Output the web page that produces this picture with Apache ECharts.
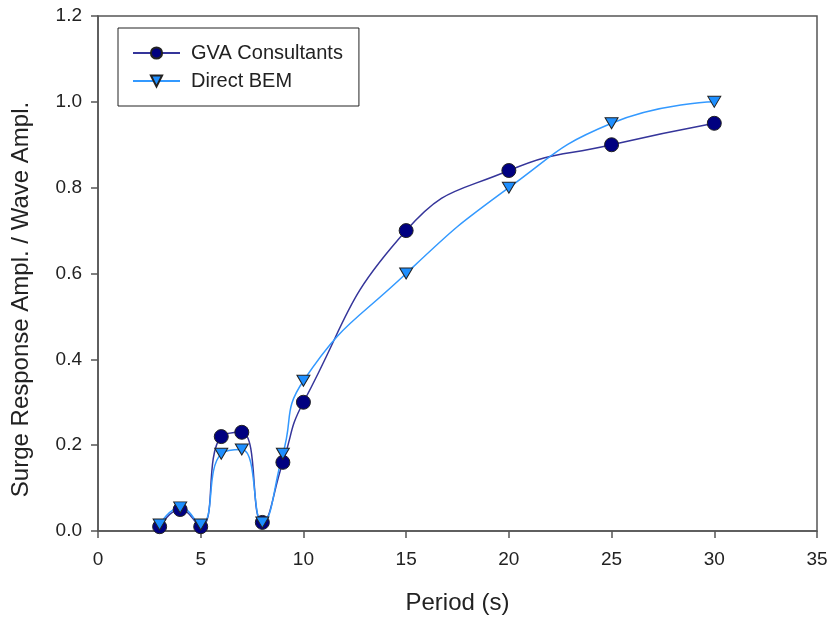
<!DOCTYPE html>
<html><head><meta charset="utf-8">
<script src="https://cdn.jsdelivr.net/npm/echarts@6/dist/echarts.min.js"></script>
<style>html,body{margin:0;padding:0;background:#fff}#c{width:831px;height:620px}</style>
</head><body><div id="c"></div>
<script>
const periods = [3, 4, 5, 6, 7, 8, 9, 10, 15, 20, 25, 30];
const gvaValues = [0.01, 0.05, 0.01, 0.22, 0.23, 0.02, 0.16, 0.30, 0.70, 0.84, 0.90, 0.95];
const bemValues = [0.015, 0.055, 0.015, 0.18, 0.19, 0.02, 0.18, 0.35, 0.60, 0.80, 0.95, 1.00];
const xTicks = [0, 5, 10, 15, 20, 25, 30, 35];
const yTicks = [0.0, 0.2, 0.4, 0.6, 0.8, 1.0, 1.2];

const chart = echarts.init(document.getElementById('c'));
const font = 'Liberation Sans, Arial, sans-serif';
const axisLine = {show: true, lineStyle: {color: '#555', width: 1.5}};
chart.setOption({
  animation: false,
  grid: {left: 98, right: 14, top: 16, bottom: 89, show: true, borderColor: '#555', borderWidth: 1.5},
  legend: {
    left: 118, top: 28, orient: 'vertical', padding: [15, 16, 15, 14],
    borderColor: '#222', borderWidth: 1, itemGap: 8, itemWidth: 47, itemHeight: 14,
    textStyle: {fontFamily: font, fontSize: 20, color: '#222', padding: [0, 0, 0, 6]},
    data: ['GVA Consultants', 'Direct BEM']
  },
  xAxis: {
    type: 'value', min: xTicks[0], max: xTicks[xTicks.length - 1], interval: 5,
    name: 'Period (s)', nameLocation: 'middle', nameGap: 60,
    nameTextStyle: {fontFamily: font, fontSize: 24, color: '#222'},
    axisLine: axisLine, axisTick: {show: true, length: 7, lineStyle: {color: '#555', width: 1.5}},
    axisLabel: {fontFamily: font, fontSize: 19, color: '#222', margin: 19},
    splitLine: {show: false}
  },
  yAxis: {
    type: 'value', min: yTicks[0], max: yTicks[yTicks.length - 1], interval: 0.2,
    name: 'Surge Response Ampl. / Wave Ampl.', nameLocation: 'middle', nameGap: 65,
    nameTextStyle: {fontFamily: font, fontSize: 24, color: '#222', padding: [0, 52, 0, 0]},
    axisLine: axisLine, axisTick: {show: true, length: 7, lineStyle: {color: '#555', width: 1.5}},
    axisLabel: {fontFamily: font, fontSize: 19, color: '#222', margin: 16, formatter: v => v.toFixed(1)},
    splitLine: {show: false}
  },
  series: [
    {
      name: 'GVA Consultants', type: 'line', smooth: 0.5,
      data: periods.map((p, i) => [p, gvaValues[i]]),
      lineStyle: {color: '#35359a', width: 1.5},
      symbol: 'circle', symbolSize: 14,
      itemStyle: {color: '#000080', borderColor: '#222', borderWidth: 1}
    },
    {
      name: 'Direct BEM', type: 'line', smooth: 0.5,
      data: periods.map((p, i) => [p, bemValues[i]]),
      lineStyle: {color: '#3399ff', width: 1.5},
      symbol: 'triangle', symbolRotate: 180, symbolSize: [13, 11],
      itemStyle: {color: '#1e8fff', borderColor: '#222', borderWidth: 1}
    }
  ]
});
</script></body></html>
